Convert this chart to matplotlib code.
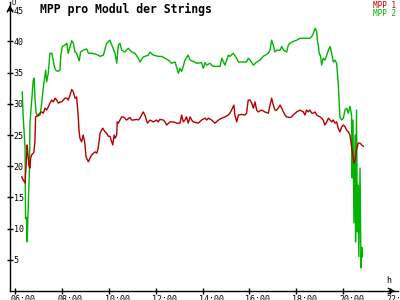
import matplotlib
matplotlib.use("Agg")
import matplotlib.pyplot as plt
import matplotlib.transforms as mtransforms

# MPP 1 (rot): Uhrzeit in Stunden, Spannung pro Modul
t1 = [6.29, 6.35, 6.43, 6.52, 6.55, 6.60, 6.64, 6.67, 6.71, 6.78, 6.81, 6.85, 6.88,
      6.98, 7.07, 7.14, 7.21, 7.28, 7.35, 7.42, 7.49, 7.57, 7.63, 7.71, 7.78, 7.85,
      7.92, 7.99, 8.06, 8.13, 8.21, 8.27, 8.35, 8.42, 8.49, 8.56, 8.63, 8.70, 8.73,
      8.77, 8.84, 8.91, 8.98, 9.03, 9.13, 9.20, 9.27, 9.41, 9.49, 9.55, 9.63, 9.74,
      9.84, 9.91, 9.98, 10.05, 10.13, 10.17, 10.23, 10.27, 10.34, 10.36, 10.41, 10.48,
      10.55, 10.62, 10.69, 10.76, 10.90, 10.98, 11.05, 11.19, 11.26, 11.33, 11.40,
      11.47, 11.54, 11.61, 11.65, 11.76, 11.90, 12.04, 12.11, 12.18, 12.33, 12.40,
      12.47, 12.61, 12.76, 12.90, 13.04, 13.11, 13.18, 13.25, 13.32, 13.39, 13.47,
      13.54, 13.61, 13.82, 13.96, 14.11, 14.18, 14.25, 14.39, 14.53, 14.68, 14.82,
      14.96, 15.10, 15.17, 15.24, 15.34, 15.38, 15.46, 15.53, 15.67, 15.81, 15.88,
      15.95, 16.03, 16.10, 16.17, 16.24, 16.31, 16.38, 16.52, 16.66, 16.81, 16.88,
      16.95, 17.02, 17.09, 17.16, 17.23, 17.31, 17.38, 17.45, 17.52, 17.59, 17.73,
      17.80, 17.87, 18.02, 18.16, 18.30, 18.37, 18.44, 18.51, 18.58, 18.66, 18.73,
      18.80, 18.87, 19.01, 19.08, 19.15, 19.22, 19.30, 19.37, 19.44, 19.51, 19.58,
      19.65, 19.72, 19.79, 19.86, 19.94, 20.01, 20.08, 20.15, 20.22, 20.29, 20.32,
      20.36, 20.40, 20.46, 20.51, 20.57, 20.64, 20.72, 20.79, 20.86]
mpp1 = [18.3, 17.8, 17.3, 23.4, 22.0, 20.0, 19.7, 21.3, 21.8, 22.1, 22.3, 24.0, 27.9,
        28.2, 28.5, 28.7, 28.5, 29.3, 29.0, 29.5, 30.1, 30.6, 30.3, 30.9, 30.6, 30.1,
        30.3, 30.3, 30.6, 30.9, 30.9, 30.6, 31.4, 32.3, 31.9, 30.9, 31.1, 27.9, 25.8,
        24.5, 23.9, 25.0, 23.7, 21.5, 20.7, 21.3, 21.8, 22.3, 22.1, 22.9, 25.3, 26.1,
        25.5, 25.3, 24.8, 24.8, 23.9, 23.4, 25.0, 24.5, 25.0, 27.1, 26.9, 27.4,
        27.9, 27.9, 27.7, 27.4, 27.8, 27.4, 27.4, 27.5, 27.4, 27.7, 28.2,
        28.7, 28.2, 27.4, 26.9, 27.4, 27.1, 27.4, 27.1, 27.5, 27.4, 27.1,
        26.6, 27.1, 27.1, 26.9, 26.9, 28.2, 27.1, 27.4, 27.9, 26.9, 27.9,
        27.4, 27.1, 26.9, 27.4, 27.7, 27.4, 27.7, 27.4, 26.9, 27.4, 27.7,
        27.9, 28.2, 28.5, 29.0, 29.8, 28.2, 27.1, 28.2, 28.3, 28.2, 28.5,
        30.6, 30.6, 30.1, 29.3, 30.3, 29.0, 28.7, 29.0, 28.7, 28.5, 29.8,
        30.9, 29.8, 29.0, 29.0, 29.3, 29.8, 29.3, 28.7, 28.2, 27.9, 27.8,
        27.9, 28.2, 28.7, 29.0, 28.7, 28.2, 29.0, 28.7, 29.0, 28.5, 28.5,
        28.7, 28.2, 27.9, 27.7, 27.4, 26.6, 27.1, 27.7, 27.4, 27.1, 27.4,
        26.9, 27.1, 26.1, 25.5, 26.3, 26.6, 26.3, 25.8, 25.5, 25.0, 24.2,
        23.1, 22.1, 20.5, 21.0, 22.6, 23.7, 23.7, 23.4, 23.2]

# MPP 2 (gruen)
t2 = [6.31, 6.35, 6.43, 6.45, 6.49, 6.52, 6.55, 6.62, 6.64, 6.70, 6.78, 6.82, 6.85,
      6.90, 6.98, 7.07, 7.14, 7.21, 7.31, 7.35, 7.42, 7.49, 7.57, 7.63, 7.68, 7.74,
      7.82, 7.92, 7.95, 8.02, 8.13, 8.21, 8.27, 8.35, 8.42, 8.49, 8.56, 8.63, 8.70,
      8.74, 8.80, 8.91, 9.06, 9.13, 9.27, 9.41, 9.55, 9.63, 9.77, 9.91, 10.05, 10.13,
      10.27, 10.34, 10.41, 10.48, 10.55, 10.69, 10.83, 10.98, 11.12, 11.26, 11.33,
      11.47, 11.69, 11.76, 11.90, 12.11, 12.26, 12.40, 12.54, 12.68, 12.83, 12.97,
      13.04, 13.11, 13.18, 13.25, 13.39, 13.47, 13.61, 13.75, 13.96, 14.03, 14.11,
      14.18, 14.32, 14.39, 14.46, 14.75, 14.82, 14.96, 15.10, 15.17, 15.31, 15.46,
      15.53, 15.67, 15.88, 15.95, 16.03, 16.17, 16.31, 16.45, 16.59, 16.81, 16.88,
      16.95, 17.02, 17.09, 17.16, 17.31, 17.38, 17.45, 17.59, 17.66, 17.73, 17.87,
      18.02, 18.16, 18.30, 18.44, 18.58, 18.66, 18.73, 18.80, 18.87, 18.90, 18.94,
      18.98, 19.04, 19.08, 19.15, 19.22, 19.30, 19.37, 19.44, 19.51, 19.58, 19.65,
      19.72, 19.79, 19.83, 19.86, 19.94, 20.01, 20.08, 20.15, 20.22, 20.29, 20.36,
      20.38, 20.42, 20.46, 20.51, 20.53, 20.57, 20.61, 20.63, 20.67, 20.72, 20.76,
      20.80, 20.82]
mpp2 = [31.9, 27.9, 22.9, 11.6, 11.8, 7.9, 11.9, 20.0, 27.0, 30.0, 33.8, 34.1, 31.0,
        28.5, 28.0, 28.2, 30.1, 32.7, 35.4, 33.5, 34.9, 38.1, 38.1, 37.0, 35.9, 35.4,
        35.2, 35.4, 37.6, 39.2, 39.4, 39.7, 38.1, 39.2, 40.1, 39.7, 38.3, 38.1, 37.3,
        36.9, 38.3, 38.6, 38.8, 38.1, 38.1, 38.0, 37.8, 37.6, 37.8, 39.7, 40.2, 39.4,
        38.1, 36.5, 39.4, 39.7, 38.6, 38.3, 38.9, 38.3, 38.1, 37.3, 36.7,
        37.5, 37.8, 38.3, 37.8, 37.6, 37.6, 37.3, 37.0, 36.5, 36.7, 34.9,
        35.7, 35.2, 36.0, 37.0, 37.8, 37.0, 36.8, 36.5, 36.6, 35.7, 36.6,
        36.2, 36.5, 36.2, 36.0, 36.0, 37.3, 36.2, 37.8, 37.6, 38.1, 37.3,
        36.7, 36.7, 36.7, 37.3, 37.0, 36.2, 36.7, 37.0, 37.6, 38.1, 38.6,
        40.2, 39.4, 38.3, 38.6, 38.6, 39.2, 38.6, 38.3, 39.4, 39.7, 40.0,
        40.2, 40.5, 40.5, 40.5, 40.5, 40.8, 41.3, 42.1, 41.6, 40.2, 39.4,
        38.1, 37.6, 36.2, 37.3, 37.0, 37.8, 38.6, 39.2, 38.1, 36.7, 37.0,
        36.5, 33.3, 30.1, 27.9, 27.4, 27.7, 29.0, 29.3, 28.5, 29.6, 28.2,
        18.1, 27.4, 10.9, 25.0, 7.9, 29.0, 9.5, 17.0, 5.5, 19.7, 3.7,
        7.0, 5.5]

xticks = [6, 8, 10, 12, 14, 16, 18, 20, 22]
xlabels = ["06:00", "08:00", "10:00", "12:00", "14:00", "16:00", "18:00", "20:00", "22:00"]
yticks = [5, 10, 15, 20, 25, 30, 35, 40, 45]

plt.rcParams["font.family"] = ["DejaVu Sans Mono"]

fig = plt.figure(figsize=(4, 3), dpi=100)
ax = fig.add_axes([0.025, 0.03, 0.97, 0.963])

ax.plot(t2, mpp2, color="#00b400", lw=1)
ax.plot(t1, mpp1, color="#b40000", lw=1)

ax.set_xlim(5.787, 22.34)
ax.set_ylim(0, 46.3)

for s in ["top", "right"]:
    ax.spines[s].set_visible(False)
for s in ["left", "bottom"]:
    ax.spines[s].set_linewidth(1)

ax.set_xticks(xticks)
ax.set_xticklabels(xlabels, fontsize=6)
ax.tick_params(axis="x", direction="inout", length=4.5, width=1, pad=0.5)
off = mtransforms.ScaledTranslation(-0.04, 0, fig.dpi_scale_trans)
for lab in ax.get_xticklabels():
    lab.set_ha("left")
    lab.set_transform(lab.get_transform() + off)

ax.set_yticks(yticks)
ax.set_yticklabels([str(v) for v in yticks], fontsize=6)
ax.tick_params(axis="y", direction="inout", length=4.5, width=1, pad=-5)
for lab in ax.get_yticklabels():
    lab.set_ha("left")

# Pfeile an den Achsen
ax.annotate("", xy=(0, 1), xytext=(0, 0.96), xycoords="axes fraction",
            arrowprops=dict(arrowstyle="->", lw=1, color="black"))
ax.annotate("", xy=(1, 0), xytext=(0.97, 0), xycoords="axes fraction",
            arrowprops=dict(arrowstyle="->", lw=1, color="black"))

fig.text(12 / 400, 1.0, "U", fontsize=5, va="top", ha="left")
fig.text(386 / 400, 1 - 276 / 300, "h", fontsize=6, va="top", ha="left")

fig.text(40 / 400, 1 - 3 / 300, "MPP pro Modul der Strings", fontsize=8.3,
         fontweight="bold", va="top", ha="left")
fig.text(396 / 400, 1 - 1 / 300, "MPP 1", fontsize=5.5, color="#c00000",
         va="top", ha="right")
fig.text(396 / 400, 1 - 9.5 / 300, "MPP 2", fontsize=5.5, color="#00b400",
         va="top", ha="right")

fig.savefig("out.png", dpi=100)
